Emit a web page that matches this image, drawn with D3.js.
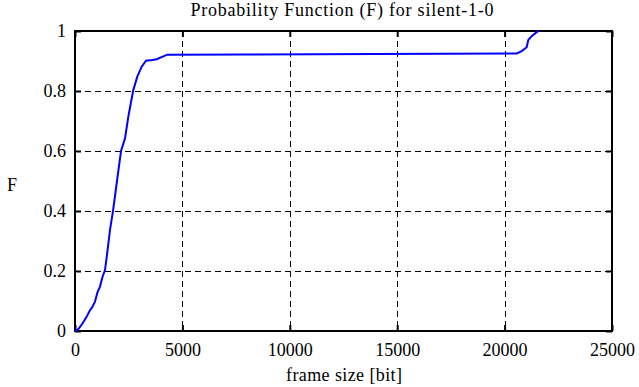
<!DOCTYPE html>
<html>
<head>
<meta charset="utf-8">
<script src="https://cdn.jsdelivr.net/npm/d3@7"></script>
<style>
  body { margin: 0; background: #fff; }
  svg text { font-family: 'Liberation Serif', 'Times New Roman', serif; fill: #000; font-size: 18px; }
</style>
</head>
<body>
<div id="chart"></div>
<script>
// DATA
var frameSize = [0, 154, 350, 545, 700, 777, 931, 1050, 1164, 1280, 1397, 1500, 1630, 1769, 1955, 2142, 2328, 2481, 2600, 2714, 2900, 3105, 3305, 3600, 3803, 4297, 8000, 14000, 20563, 20796, 21028, 21103, 21260, 21523, 21600];
var probF = [0, 0.006, 0.025, 0.048, 0.07, 0.076, 0.098, 0.13, 0.148, 0.18, 0.203, 0.26, 0.337, 0.4, 0.5, 0.6, 0.642, 0.714, 0.76, 0.803, 0.848, 0.881, 0.901, 0.903, 0.906, 0.921, 0.922, 0.923, 0.925, 0.933, 0.946, 0.97, 0.983, 0.998, 1];
var xTicks = [0, 5000, 10000, 15000, 20000, 25000];
var yTicks = [0, 0.2, 0.4, 0.6, 0.8, 1];

// CHART SETUP
var margin = { top: 31, right: 27, bottom: 56, left: 75 },
  width = 639 - margin.left - margin.right,
  height = 387 - margin.top - margin.bottom;

var root = d3.select("#chart").append("svg")
  .attr("width", 639)
  .attr("height", 387);

var svg = root.append("g")
  .attr("transform", "translate(" + margin.left + "," + margin.top + ")");

var xScale = d3.scaleLinear().domain([0, 25000]).range([0, width]);
var yScale = d3.scaleLinear().domain([0, 1]).range([height, 0]);

// GRID (snapped to half pixels so the dashes stay black)
svg.selectAll(".vgrid")
  .data(xTicks.slice(1, -1))
  .enter().append("line")
  .attr("x1", d => Math.round(xScale(d)) + 0.5).attr("x2", d => Math.round(xScale(d)) + 0.5)
  .attr("y1", 0).attr("y2", height)
  .attr("stroke", "#000").attr("stroke-width", 1)
  .attr("stroke-dasharray", "6,4");

svg.selectAll(".hgrid")
  .data(yTicks.slice(1, -1))
  .enter().append("line")
  .attr("x1", 0).attr("x2", width)
  .attr("y1", d => Math.round(yScale(d)) + 0.5).attr("y2", d => Math.round(yScale(d)) + 0.5)
  .attr("stroke", "#000").attr("stroke-width", 1)
  .attr("stroke-dasharray", "6,4");

// AXES (inside ticks, mirrored)
function styleAxis(g) {
  g.attr("font-family", null).attr("font-size", null);
  g.select(".domain").remove();
  g.selectAll("line").attr("stroke", "#000").attr("stroke-width", 2);
}

svg.append("g")
  .attr("transform", "translate(0," + height + ")")
  .call(d3.axisBottom(xScale).tickValues(xTicks).tickFormat(d3.format("d")).tickSizeInner(-6).tickPadding(12))
  .call(styleAxis);

svg.append("g")
  .call(d3.axisTop(xScale).tickValues(xTicks).tickSizeInner(-6).tickFormat(""))
  .call(styleAxis);

svg.append("g")
  .call(d3.axisLeft(yScale).tickValues(yTicks).tickFormat(d3.format("")).tickSizeInner(-6).tickPadding(9))
  .call(styleAxis);

svg.append("g")
  .attr("transform", "translate(" + width + ",0)")
  .call(d3.axisRight(yScale).tickValues(yTicks).tickSizeInner(-6).tickFormat(""))
  .call(styleAxis);

// BORDER
svg.append("rect")
  .attr("width", width).attr("height", height)
  .attr("fill", "none").attr("stroke", "#000").attr("stroke-width", 2);

// CURVE
var line = d3.line()
  .x((d, i) => xScale(frameSize[i]))
  .y(d => yScale(d));

svg.append("path")
  .datum(probF)
  .attr("d", line)
  .attr("fill", "none")
  .attr("stroke", "#0000ff")
  .attr("stroke-width", 2);

// LABELS
root.append("text")
  .attr("x", 342).attr("y", 16)
  .attr("text-anchor", "middle")
  .attr("textLength", 303)
  .attr("lengthAdjust", "spacing")
  .text("Probability Function (F) for silent-1-0");

root.append("text")
  .attr("x", 344).attr("y", 381)
  .attr("text-anchor", "middle")
  .attr("textLength", 116)
  .attr("lengthAdjust", "spacing")
  .text("frame size [bit]");

root.append("text")
  .attr("x", 12).attr("y", 191)
  .attr("text-anchor", "middle")
  .text("F");
</script>
</body>
</html>
